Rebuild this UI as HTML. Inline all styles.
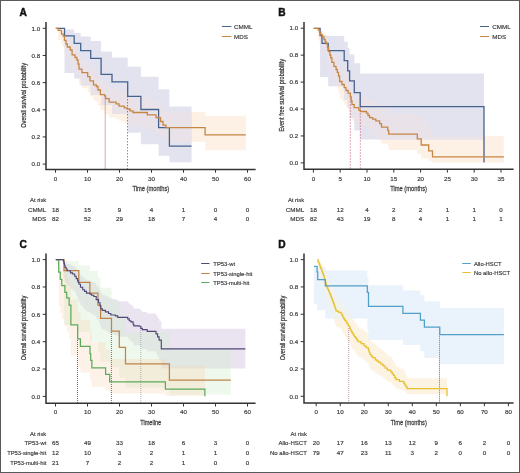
<!DOCTYPE html><html><head><meta charset="utf-8"><style>html,body{margin:0;padding:0;background:#fff;}svg{display:block;will-change:transform;}text{font-family:"Liberation Sans",sans-serif;}</style></head><body>
<svg width="520" height="473" viewBox="0 0 520 473">
<rect x="0" y="0" width="520" height="473" fill="#ffffff"/>
<text x="19.60" y="15.60" font-size="10.2" text-anchor="start" fill="#111" font-weight="bold" stroke="#111" stroke-width="0.45">A</text>
<text x="278.20" y="15.60" font-size="10.2" text-anchor="start" fill="#111" font-weight="bold" stroke="#111" stroke-width="0.45">B</text>
<text x="19.60" y="247.60" font-size="10.2" text-anchor="start" fill="#111" font-weight="bold" stroke="#111" stroke-width="0.45">C</text>
<text x="278.20" y="247.60" font-size="10.2" text-anchor="start" fill="#111" font-weight="bold" stroke="#111" stroke-width="0.45">D</text>
<clipPath id="cA"><path d="M64.50 29.50 L74.20 29.50 L74.20 32.90 L80.70 32.90 L80.70 36.40 L90.70 36.40 L90.70 41.00 L101.10 41.00 L101.10 51.50 L112.00 51.50 L112.00 57.50 L127.70 57.50 L127.70 66.70 L140.90 66.70 L140.90 76.70 L158.60 76.70 L158.60 89.30 L169.40 89.30 L169.40 106.40 L191.60 106.40 L191.60 162.20 L169.40 162.20 L169.40 155.80 L158.60 155.80 L158.60 144.20 L140.90 144.20 L140.90 132.70 L127.70 132.70 L127.70 114.00 L112.00 114.00 L112.00 105.00 L101.10 105.00 L101.10 94.80 L90.70 94.80 L90.70 85.60 L80.70 85.60 L80.70 78.60 L74.20 78.60 L74.20 72.90 L64.50 72.90Z"/></clipPath>
<path d="M58.20 28.63 L61.50 28.63 L61.50 30.31 L63.20 30.31 L63.20 31.39 L64.40 31.39 L64.40 34.13 L66.00 34.13 L66.00 36.72 L67.30 36.72 L67.30 38.95 L70.20 38.95 L70.20 41.24 L72.10 41.24 L72.10 45.04 L75.00 45.04 L75.00 47.24 L76.90 47.24 L76.90 49.32 L78.00 49.32 L78.00 52.70 L79.00 52.70 L79.00 57.22 L81.90 57.22 L81.90 60.33 L87.70 60.33 L87.70 63.89 L90.00 63.89 L90.00 67.61 L93.50 67.61 L93.50 71.29 L96.30 71.29 L96.30 72.87 L98.00 72.87 L98.00 76.15 L100.40 76.15 L100.40 80.53 L104.60 80.53 L104.60 81.68 L105.60 81.68 L105.60 84.47 L109.20 84.47 L109.20 87.77 L116.20 87.77 L116.20 89.40 L119.00 89.40 L119.00 91.69 L124.20 91.69 L124.20 93.32 L127.10 93.32 L127.10 94.38 L130.00 94.38 L130.00 96.11 L133.00 96.11 L133.00 97.75 L147.30 97.75 L147.30 99.87 L156.00 99.87 L156.00 102.48 L160.50 102.48 L160.50 105.94 L163.00 105.94 L163.00 109.35 L166.00 109.35 L166.00 111.78 L205.10 111.78 L205.10 115.78 L245.80 115.78 L245.80 150.16 L205.10 150.16 L205.10 141.87 L166.00 141.87 L166.00 139.63 L163.00 139.63 L163.00 136.27 L160.50 136.27 L160.50 132.54 L156.00 132.54 L156.00 129.63 L147.30 129.63 L147.30 127.36 L133.00 127.36 L133.00 125.75 L130.00 125.75 L130.00 124.03 L127.10 124.03 L127.10 122.98 L124.20 122.98 L124.20 121.34 L119.00 121.34 L119.00 119.02 L116.20 119.02 L116.20 117.38 L109.20 117.38 L109.20 114.15 L105.60 114.15 L105.60 111.37 L104.60 111.37 L104.60 110.22 L100.40 110.22 L100.40 105.75 L98.00 105.75 L98.00 102.30 L96.30 102.30 L96.30 100.61 L93.50 100.61 L93.50 96.60 L90.00 96.60 L90.00 92.42 L87.70 92.42 L87.70 88.28 L81.90 88.28 L81.90 84.66 L79.00 84.66 L79.00 79.20 L78.00 79.20 L78.00 74.90 L76.90 74.90 L76.90 72.17 L75.00 72.17 L75.00 69.18 L72.10 69.18 L72.10 63.77 L70.20 63.77 L70.20 60.31 L67.30 60.31 L67.30 56.81 L66.00 56.81 L66.00 52.37 L64.40 52.37 L64.40 47.00 L63.20 47.00 L63.20 44.57 L61.50 44.57 L61.50 40.09 L58.20 40.09Z" fill="#fdf1e6" fill-opacity="1.0" stroke="none"/>
<path d="M64.50 29.50 L74.20 29.50 L74.20 32.90 L80.70 32.90 L80.70 36.40 L90.70 36.40 L90.70 41.00 L101.10 41.00 L101.10 51.50 L112.00 51.50 L112.00 57.50 L127.70 57.50 L127.70 66.70 L140.90 66.70 L140.90 76.70 L158.60 76.70 L158.60 89.30 L169.40 89.30 L169.40 106.40 L191.60 106.40 L191.60 162.20 L169.40 162.20 L169.40 155.80 L158.60 155.80 L158.60 144.20 L140.90 144.20 L140.90 132.70 L127.70 132.70 L127.70 114.00 L112.00 114.00 L112.00 105.00 L101.10 105.00 L101.10 94.80 L90.70 94.80 L90.70 85.60 L80.70 85.60 L80.70 78.60 L74.20 78.60 L74.20 72.90 L64.50 72.90Z" fill="#e3e3f0" fill-opacity="1.0" stroke="none"/>
<path d="M58.20 28.63 L61.50 28.63 L61.50 30.31 L63.20 30.31 L63.20 31.39 L64.40 31.39 L64.40 34.13 L66.00 34.13 L66.00 36.72 L67.30 36.72 L67.30 38.95 L70.20 38.95 L70.20 41.24 L72.10 41.24 L72.10 45.04 L75.00 45.04 L75.00 47.24 L76.90 47.24 L76.90 49.32 L78.00 49.32 L78.00 52.70 L79.00 52.70 L79.00 57.22 L81.90 57.22 L81.90 60.33 L87.70 60.33 L87.70 63.89 L90.00 63.89 L90.00 67.61 L93.50 67.61 L93.50 71.29 L96.30 71.29 L96.30 72.87 L98.00 72.87 L98.00 76.15 L100.40 76.15 L100.40 80.53 L104.60 80.53 L104.60 81.68 L105.60 81.68 L105.60 84.47 L109.20 84.47 L109.20 87.77 L116.20 87.77 L116.20 89.40 L119.00 89.40 L119.00 91.69 L124.20 91.69 L124.20 93.32 L127.10 93.32 L127.10 94.38 L130.00 94.38 L130.00 96.11 L133.00 96.11 L133.00 97.75 L147.30 97.75 L147.30 99.87 L156.00 99.87 L156.00 102.48 L160.50 102.48 L160.50 105.94 L163.00 105.94 L163.00 109.35 L166.00 109.35 L166.00 111.78 L205.10 111.78 L205.10 115.78 L245.80 115.78 L245.80 150.16 L205.10 150.16 L205.10 141.87 L166.00 141.87 L166.00 139.63 L163.00 139.63 L163.00 136.27 L160.50 136.27 L160.50 132.54 L156.00 132.54 L156.00 129.63 L147.30 129.63 L147.30 127.36 L133.00 127.36 L133.00 125.75 L130.00 125.75 L130.00 124.03 L127.10 124.03 L127.10 122.98 L124.20 122.98 L124.20 121.34 L119.00 121.34 L119.00 119.02 L116.20 119.02 L116.20 117.38 L109.20 117.38 L109.20 114.15 L105.60 114.15 L105.60 111.37 L104.60 111.37 L104.60 110.22 L100.40 110.22 L100.40 105.75 L98.00 105.75 L98.00 102.30 L96.30 102.30 L96.30 100.61 L93.50 100.61 L93.50 96.60 L90.00 96.60 L90.00 92.42 L87.70 92.42 L87.70 88.28 L81.90 88.28 L81.90 84.66 L79.00 84.66 L79.00 79.20 L78.00 79.20 L78.00 74.90 L76.90 74.90 L76.90 72.17 L75.00 72.17 L75.00 69.18 L72.10 69.18 L72.10 63.77 L70.20 63.77 L70.20 60.31 L67.30 60.31 L67.30 56.81 L66.00 56.81 L66.00 52.37 L64.40 52.37 L64.40 47.00 L63.20 47.00 L63.20 44.57 L61.50 44.57 L61.50 40.09 L58.20 40.09Z" fill="#e9e3e9" fill-opacity="1.0" stroke="none" clip-path="url(#cA)"/>
<clipPath id="cB"><path d="M320.10 35.50 L328.20 35.50 L328.20 35.90 L344.20 35.90 L344.20 41.80 L347.70 41.80 L347.70 48.00 L349.60 48.00 L349.60 54.40 L354.30 54.40 L354.30 63.30 L360.20 63.30 L360.20 73.50 L484.00 73.50 L484.00 139.60 L360.20 139.60 L360.20 130.40 L354.30 130.40 L354.30 118.00 L349.60 118.00 L349.60 108.00 L347.70 108.00 L347.70 100.00 L344.20 100.00 L344.20 86.30 L328.20 86.30 L328.20 77.00 L320.10 77.00Z"/></clipPath>
<path d="M318.30 28.53 L319.50 28.53 L319.50 29.44 L320.80 29.44 L320.80 30.62 L322.50 30.62 L322.50 31.89 L324.00 31.89 L324.00 33.46 L325.20 33.46 L325.20 34.99 L326.50 34.99 L326.50 36.37 L327.50 36.37 L327.50 39.05 L328.60 39.05 L328.60 42.15 L329.90 42.15 L329.90 44.82 L330.80 44.82 L330.80 47.24 L331.90 47.24 L331.90 50.88 L333.90 50.88 L333.90 54.26 L336.00 54.26 L336.00 56.92 L337.30 56.92 L337.30 59.35 L338.50 59.35 L338.50 62.61 L339.60 62.61 L339.60 67.55 L342.00 67.55 L342.00 70.30 L344.20 70.30 L344.20 73.25 L346.00 73.25 L346.00 75.87 L348.10 75.87 L348.10 78.31 L350.40 78.31 L350.40 81.91 L351.20 81.91 L351.20 85.88 L352.00 85.88 L352.00 89.44 L354.20 89.44 L354.20 92.54 L358.80 92.54 L358.80 94.81 L360.40 94.81 L360.40 96.24 L366.50 96.24 L366.50 96.86 L368.00 96.86 L368.00 98.91 L369.60 98.91 L369.60 100.79 L372.70 100.79 L372.70 101.80 L375.80 101.80 L375.80 102.90 L379.60 102.90 L379.60 105.09 L381.50 105.09 L381.50 108.21 L387.70 108.21 L387.70 110.71 L388.70 110.71 L388.70 114.49 L417.30 114.49 L417.30 116.99 L421.20 116.99 L421.20 121.66 L428.70 121.66 L428.70 127.27 L432.50 127.27 L432.50 135.67 L503.80 135.67 L503.80 162.56 L432.50 162.56 L432.50 161.19 L428.70 161.19 L428.70 158.59 L421.20 158.59 L421.20 154.30 L417.30 154.30 L417.30 149.88 L388.70 149.88 L388.70 146.92 L387.70 146.92 L387.70 143.86 L381.50 143.86 L381.50 140.66 L379.60 140.66 L379.60 137.61 L375.80 137.61 L375.80 135.79 L372.70 135.79 L372.70 134.03 L369.60 134.03 L369.60 131.79 L368.00 131.79 L368.00 129.31 L366.50 129.31 L366.50 126.90 L360.40 126.90 L360.40 125.47 L358.80 125.47 L358.80 123.35 L354.20 123.35 L354.20 120.54 L352.00 120.54 L352.00 117.23 L351.20 117.23 L351.20 113.37 L350.40 113.37 L350.40 109.70 L348.10 109.70 L348.10 107.17 L346.00 107.17 L346.00 104.43 L344.20 104.43 L344.20 101.26 L342.00 101.26 L342.00 98.26 L339.60 98.26 L339.60 92.67 L338.50 92.67 L338.50 88.83 L337.30 88.83 L337.30 85.89 L336.00 85.89 L336.00 82.60 L333.90 82.60 L333.90 78.31 L331.90 78.31 L331.90 73.52 L330.80 73.52 L330.80 70.20 L329.90 70.20 L329.90 66.35 L328.60 66.35 L328.60 61.59 L327.50 61.59 L327.50 57.15 L326.50 57.15 L326.50 54.70 L325.20 54.70 L325.20 51.82 L324.00 51.82 L324.00 48.61 L322.50 48.61 L322.50 45.73 L320.80 45.73 L320.80 42.71 L319.50 42.71 L319.50 39.99 L318.30 39.99Z" fill="#fdf1e6" fill-opacity="1.0" stroke="none"/>
<path d="M320.10 35.50 L328.20 35.50 L328.20 35.90 L344.20 35.90 L344.20 41.80 L347.70 41.80 L347.70 48.00 L349.60 48.00 L349.60 54.40 L354.30 54.40 L354.30 63.30 L360.20 63.30 L360.20 73.50 L484.00 73.50 L484.00 139.60 L360.20 139.60 L360.20 130.40 L354.30 130.40 L354.30 118.00 L349.60 118.00 L349.60 108.00 L347.70 108.00 L347.70 100.00 L344.20 100.00 L344.20 86.30 L328.20 86.30 L328.20 77.00 L320.10 77.00Z" fill="#e3e3f0" fill-opacity="1.0" stroke="none"/>
<path d="M318.30 28.53 L319.50 28.53 L319.50 29.44 L320.80 29.44 L320.80 30.62 L322.50 30.62 L322.50 31.89 L324.00 31.89 L324.00 33.46 L325.20 33.46 L325.20 34.99 L326.50 34.99 L326.50 36.37 L327.50 36.37 L327.50 39.05 L328.60 39.05 L328.60 42.15 L329.90 42.15 L329.90 44.82 L330.80 44.82 L330.80 47.24 L331.90 47.24 L331.90 50.88 L333.90 50.88 L333.90 54.26 L336.00 54.26 L336.00 56.92 L337.30 56.92 L337.30 59.35 L338.50 59.35 L338.50 62.61 L339.60 62.61 L339.60 67.55 L342.00 67.55 L342.00 70.30 L344.20 70.30 L344.20 73.25 L346.00 73.25 L346.00 75.87 L348.10 75.87 L348.10 78.31 L350.40 78.31 L350.40 81.91 L351.20 81.91 L351.20 85.88 L352.00 85.88 L352.00 89.44 L354.20 89.44 L354.20 92.54 L358.80 92.54 L358.80 94.81 L360.40 94.81 L360.40 96.24 L366.50 96.24 L366.50 96.86 L368.00 96.86 L368.00 98.91 L369.60 98.91 L369.60 100.79 L372.70 100.79 L372.70 101.80 L375.80 101.80 L375.80 102.90 L379.60 102.90 L379.60 105.09 L381.50 105.09 L381.50 108.21 L387.70 108.21 L387.70 110.71 L388.70 110.71 L388.70 114.49 L417.30 114.49 L417.30 116.99 L421.20 116.99 L421.20 121.66 L428.70 121.66 L428.70 127.27 L432.50 127.27 L432.50 135.67 L503.80 135.67 L503.80 162.56 L432.50 162.56 L432.50 161.19 L428.70 161.19 L428.70 158.59 L421.20 158.59 L421.20 154.30 L417.30 154.30 L417.30 149.88 L388.70 149.88 L388.70 146.92 L387.70 146.92 L387.70 143.86 L381.50 143.86 L381.50 140.66 L379.60 140.66 L379.60 137.61 L375.80 137.61 L375.80 135.79 L372.70 135.79 L372.70 134.03 L369.60 134.03 L369.60 131.79 L368.00 131.79 L368.00 129.31 L366.50 129.31 L366.50 126.90 L360.40 126.90 L360.40 125.47 L358.80 125.47 L358.80 123.35 L354.20 123.35 L354.20 120.54 L352.00 120.54 L352.00 117.23 L351.20 117.23 L351.20 113.37 L350.40 113.37 L350.40 109.70 L348.10 109.70 L348.10 107.17 L346.00 107.17 L346.00 104.43 L344.20 104.43 L344.20 101.26 L342.00 101.26 L342.00 98.26 L339.60 98.26 L339.60 92.67 L338.50 92.67 L338.50 88.83 L337.30 88.83 L337.30 85.89 L336.00 85.89 L336.00 82.60 L333.90 82.60 L333.90 78.31 L331.90 78.31 L331.90 73.52 L330.80 73.52 L330.80 70.20 L329.90 70.20 L329.90 66.35 L328.60 66.35 L328.60 61.59 L327.50 61.59 L327.50 57.15 L326.50 57.15 L326.50 54.70 L325.20 54.70 L325.20 51.82 L324.00 51.82 L324.00 48.61 L322.50 48.61 L322.50 45.73 L320.80 45.73 L320.80 42.71 L319.50 42.71 L319.50 39.99 L318.30 39.99Z" fill="#e9e3e9" fill-opacity="1.0" stroke="none" clip-path="url(#cB)"/>
<path d="M63.30 259.70 L63.87 259.70 L63.87 260.26 L64.43 260.26 L64.43 261.11 L65.00 261.11 L65.00 262.15 L66.05 262.15 L66.05 263.08 L67.10 263.08 L67.10 264.07 L70.50 264.07 L70.50 265.37 L72.50 265.37 L72.50 266.14 L74.70 266.14 L74.70 267.60 L76.20 267.60 L76.20 269.25 L77.60 269.25 L77.60 270.82 L78.30 270.82 L78.30 272.07 L79.00 272.07 L79.00 273.34 L80.50 273.34 L80.50 275.64 L82.70 275.64 L82.70 277.60 L84.60 277.60 L84.60 278.96 L86.50 278.96 L86.50 280.33 L90.00 280.33 L90.00 281.22 L91.60 281.22 L91.60 282.03 L93.80 282.03 L93.80 283.10 L96.20 283.10 L96.20 285.66 L98.50 285.66 L98.50 288.27 L100.00 288.27 L100.00 290.93 L100.80 290.93 L100.80 293.56 L102.30 293.56 L102.30 294.99 L105.40 294.99 L105.40 296.32 L108.50 296.32 L108.50 297.75 L110.80 297.75 L110.80 299.09 L115.40 299.09 L115.40 299.81 L117.70 299.81 L117.70 301.14 L126.90 301.14 L126.90 301.14 L127.70 301.14 L127.70 302.44 L129.20 302.44 L129.20 304.09 L130.80 304.09 L130.80 305.14 L133.10 305.14 L133.10 307.16 L133.80 307.16 L133.80 308.59 L139.20 308.59 L139.20 308.94 L140.80 308.94 L140.80 310.87 L142.30 310.87 L142.30 311.93 L147.20 311.93 L147.20 313.48 L156.00 313.48 L156.00 315.43 L157.60 315.43 L157.60 318.02 L159.10 318.02 L159.10 320.78 L161.30 320.78 L161.30 328.73 L245.40 328.73 L245.40 368.50 L161.30 368.50 L161.30 360.21 L159.10 360.21 L159.10 356.99 L157.60 356.99 L157.60 353.74 L156.00 353.74 L156.00 351.14 L147.20 351.14 L147.20 349.28 L142.30 349.28 L142.30 348.07 L140.80 348.07 L140.80 345.82 L139.20 345.82 L139.20 345.41 L133.80 345.41 L133.80 343.81 L133.10 343.81 L133.10 341.46 L130.80 341.46 L130.80 340.23 L129.20 340.23 L129.20 338.26 L127.70 338.26 L127.70 336.70 L126.90 336.70 L126.90 336.70 L117.70 336.70 L117.70 335.19 L115.40 335.19 L115.40 334.38 L110.80 334.38 L110.80 332.89 L108.50 332.89 L108.50 331.30 L105.40 331.30 L105.40 329.80 L102.30 329.80 L102.30 328.21 L100.80 328.21 L100.80 325.18 L100.00 325.18 L100.00 321.99 L98.50 321.99 L98.50 318.73 L96.20 318.73 L96.20 315.42 L93.80 315.42 L93.80 314.02 L91.60 314.02 L91.60 312.95 L90.00 312.95 L90.00 311.77 L86.50 311.77 L86.50 309.94 L84.60 309.94 L84.60 308.10 L82.70 308.10 L82.70 305.36 L80.50 305.36 L80.50 302.03 L79.00 302.03 L79.00 300.12 L78.30 300.12 L78.30 298.18 L77.60 298.18 L77.60 295.63 L76.20 295.63 L76.20 292.79 L74.70 292.79 L74.70 290.13 L72.50 290.13 L72.50 288.68 L70.50 288.68 L70.50 286.11 L67.10 286.11 L67.10 284.04 L66.05 284.04 L66.05 281.97 L65.00 281.97 L65.00 279.48 L64.43 279.48 L64.43 277.33 L63.87 277.33 L63.87 278.27 L63.30 278.27Z" fill="#c8bcd8" fill-opacity="0.4" stroke="none"/>
<path d="M64.00 261.08 L78.80 261.08 L78.80 265.50 L89.90 265.50 L89.90 271.02 L97.90 271.02 L97.90 278.01 L100.60 278.01 L100.60 287.77 L111.50 287.77 L111.50 300.55 L119.30 300.55 L119.30 315.73 L125.50 315.73 L125.50 332.20 L169.40 332.20 L169.40 348.58 L230.80 348.58 L230.80 394.55 L169.40 394.55 L169.40 387.38 L125.50 387.38 L125.50 377.66 L119.30 377.66 L119.30 367.18 L111.50 367.18 L111.50 361.61 L100.60 361.61 L100.60 352.53 L97.90 352.53 L97.90 341.42 L89.90 341.42 L89.90 332.04 L78.80 332.04 L78.80 324.68 L64.00 324.68Z" fill="#d3ebce" fill-opacity="0.36" stroke="none"/>
<path d="M58.70 262.64 L60.30 262.64 L60.30 266.15 L61.80 266.15 L61.80 269.77 L64.90 269.77 L64.90 274.21 L66.70 274.21 L66.70 278.04 L69.10 278.04 L69.10 283.41 L70.90 283.41 L70.90 299.48 L77.70 299.48 L77.70 312.32 L80.40 312.32 L80.40 319.73 L90.00 319.73 L90.00 326.62 L90.70 326.62 L90.70 333.63 L91.90 333.63 L91.90 342.22 L105.60 342.22 L105.60 349.56 L109.70 349.56 L109.70 359.02 L165.40 359.02 L165.40 365.65 L204.90 365.65 L204.90 395.99 L165.40 395.99 L165.40 393.58 L109.70 393.58 L109.70 390.33 L105.60 390.33 L105.60 386.69 L91.90 386.69 L91.90 382.51 L90.70 382.51 L90.70 378.14 L90.00 378.14 L90.00 372.45 L80.40 372.45 L80.40 367.17 L77.70 367.17 L77.70 355.85 L70.90 355.85 L70.90 338.49 L69.10 338.49 L69.10 331.47 L66.70 331.47 L66.70 326.07 L64.90 326.07 L64.90 319.04 L61.80 319.04 L61.80 312.85 L60.30 312.85 L60.30 306.14 L58.70 306.14Z" fill="#f6d3b0" fill-opacity="0.3" stroke="none"/>
<clipPath id="cD"><path d="M313.90 266.00 L317.10 266.00 L317.10 267.00 L325.30 267.00 L325.30 270.50 L367.30 270.50 L367.30 278.00 L368.50 278.00 L368.50 285.20 L402.90 285.20 L402.90 290.60 L420.40 290.60 L420.40 295.00 L424.40 295.00 L424.40 301.40 L439.80 301.40 L439.80 308.00 L503.90 308.00 L503.90 364.20 L439.80 364.20 L439.80 358.10 L424.40 358.10 L424.40 351.20 L420.40 351.20 L420.40 345.10 L402.90 345.10 L402.90 339.90 L368.50 339.90 L368.50 330.00 L367.30 330.00 L367.30 318.50 L325.30 318.50 L325.30 310.00 L317.10 310.00 L317.10 304.00 L313.90 304.00Z"/></clipPath>
<path d="M318.05 259.96 L319.00 259.96 L319.00 260.83 L319.62 260.83 L319.62 261.62 L320.25 261.62 L320.25 262.50 L320.88 262.50 L320.88 263.45 L321.50 263.45 L321.50 264.45 L322.12 264.45 L322.12 265.61 L322.75 265.61 L322.75 266.82 L323.38 266.82 L323.38 268.06 L324.00 268.06 L324.00 269.34 L324.48 269.34 L324.48 270.65 L324.95 270.65 L324.95 271.99 L325.42 271.99 L325.42 273.35 L325.90 273.35 L325.90 274.73 L326.53 274.73 L326.53 276.09 L327.17 276.09 L327.17 277.48 L327.80 277.48 L327.80 278.87 L328.60 278.87 L328.60 280.43 L329.40 280.43 L329.40 282.01 L330.20 282.01 L330.20 283.60 L331.00 283.60 L331.00 285.21 L331.62 285.21 L331.62 286.66 L332.25 286.66 L332.25 288.13 L332.88 288.13 L332.88 289.60 L333.50 289.60 L333.50 291.09 L334.15 291.09 L334.15 292.78 L334.80 292.78 L334.80 294.50 L335.45 294.50 L335.45 296.22 L336.10 296.22 L336.10 297.96 L338.60 297.96 L338.60 299.15 L341.10 299.15 L341.10 300.33 L341.97 300.33 L341.97 301.88 L342.83 301.88 L342.83 303.44 L343.70 303.44 L343.70 305.02 L344.83 305.02 L344.83 306.57 L345.97 306.57 L345.97 308.12 L347.10 308.12 L347.10 309.69 L348.35 309.69 L348.35 311.71 L349.60 311.71 L349.60 313.75 L350.43 313.75 L350.43 315.35 L351.27 315.35 L351.27 316.95 L352.10 316.95 L352.10 318.57 L353.23 318.57 L353.23 320.22 L354.37 320.22 L354.37 321.88 L355.50 321.88 L355.50 323.55 L356.75 323.55 L356.75 325.23 L358.00 325.23 L358.00 326.90 L361.00 326.90 L361.00 328.95 L364.00 328.95 L364.00 330.98 L366.10 330.98 L366.10 332.63 L368.20 332.63 L368.20 334.28 L368.77 334.28 L368.77 335.96 L369.33 335.96 L369.33 337.67 L369.90 337.67 L369.90 339.40 L371.20 339.40 L371.20 341.15 L372.50 341.15 L372.50 342.91 L375.20 342.91 L375.20 345.09 L376.95 345.09 L376.95 346.45 L378.70 346.45 L378.70 347.82 L380.85 347.82 L380.85 349.65 L383.00 349.65 L383.00 351.49 L385.15 351.49 L385.15 353.76 L387.30 353.76 L387.30 356.05 L390.80 356.05 L390.80 357.86 L392.10 357.86 L392.10 359.76 L393.40 359.76 L393.40 361.72 L394.70 361.72 L394.70 364.19 L396.00 364.19 L396.00 366.77 L399.40 366.77 L399.40 368.83 L403.70 368.83 L403.70 370.93 L404.87 370.93 L404.87 373.20 L406.03 373.20 L406.03 375.62 L407.20 375.62 L407.20 378.23 L447.00 378.23 L447.00 394.09 L407.20 394.09 L407.20 393.19 L406.03 393.19 L406.03 392.19 L404.87 392.19 L404.87 391.08 L403.70 391.08 L403.70 389.90 L399.40 389.90 L399.40 388.78 L396.00 388.78 L396.00 387.33 L394.70 387.33 L394.70 385.80 L393.40 385.80 L393.40 384.49 L392.10 384.49 L392.10 383.14 L390.80 383.14 L390.80 381.78 L387.30 381.78 L387.30 380.05 L385.15 380.05 L385.15 378.28 L383.00 378.28 L383.00 376.82 L380.85 376.82 L380.85 375.35 L378.70 375.35 L378.70 374.25 L376.95 374.25 L376.95 373.15 L375.20 373.15 L375.20 371.35 L372.50 371.35 L372.50 369.88 L371.20 369.88 L371.20 368.39 L369.90 368.39 L369.90 366.89 L369.33 366.89 L369.33 365.36 L368.77 365.36 L368.77 363.80 L368.20 363.80 L368.20 362.21 L366.10 362.21 L366.10 360.61 L364.00 360.61 L364.00 358.61 L361.00 358.61 L361.00 356.64 L358.00 356.64 L358.00 355.06 L356.75 355.06 L356.75 353.47 L355.50 353.47 L355.50 351.88 L354.37 351.88 L354.37 350.28 L353.23 350.28 L353.23 348.67 L352.10 348.67 L352.10 347.08 L351.27 347.08 L351.27 345.49 L350.43 345.49 L350.43 343.88 L349.60 343.88 L349.60 341.79 L348.35 341.79 L348.35 339.68 L347.10 339.68 L347.10 338.04 L345.97 338.04 L345.97 336.39 L344.83 336.39 L344.83 334.73 L343.70 334.73 L343.70 333.03 L342.83 333.03 L342.83 331.31 L341.97 331.31 L341.97 329.59 L341.10 329.59 L341.10 328.26 L338.60 328.26 L338.60 326.95 L336.10 326.95 L336.10 325.04 L335.45 325.04 L335.45 323.12 L334.80 323.12 L334.80 321.18 L334.15 321.18 L334.15 319.23 L333.50 319.23 L333.50 317.50 L332.88 317.50 L332.88 315.76 L332.25 315.76 L332.25 314.01 L331.62 314.01 L331.62 312.24 L331.00 312.24 L331.00 310.25 L330.20 310.25 L330.20 308.25 L329.40 308.25 L329.40 306.23 L328.60 306.23 L328.60 304.19 L327.80 304.19 L327.80 302.33 L327.17 302.33 L327.17 300.46 L326.53 300.46 L326.53 298.57 L325.90 298.57 L325.90 296.60 L325.42 296.60 L325.42 294.62 L324.95 294.62 L324.95 292.61 L324.48 292.61 L324.48 290.58 L324.00 290.58 L324.00 288.51 L323.38 288.51 L323.38 286.42 L322.75 286.42 L322.75 284.30 L322.12 284.30 L322.12 282.15 L321.50 282.15 L321.50 280.18 L320.88 280.18 L320.88 278.19 L320.25 278.19 L320.25 276.19 L319.62 276.19 L319.62 274.22 L319.00 274.22 L319.00 271.94 L318.05 271.94Z" fill="#fdf3e2" fill-opacity="1.0" stroke="none"/>
<path d="M313.90 266.00 L317.10 266.00 L317.10 267.00 L325.30 267.00 L325.30 270.50 L367.30 270.50 L367.30 278.00 L368.50 278.00 L368.50 285.20 L402.90 285.20 L402.90 290.60 L420.40 290.60 L420.40 295.00 L424.40 295.00 L424.40 301.40 L439.80 301.40 L439.80 308.00 L503.90 308.00 L503.90 364.20 L439.80 364.20 L439.80 358.10 L424.40 358.10 L424.40 351.20 L420.40 351.20 L420.40 345.10 L402.90 345.10 L402.90 339.90 L368.50 339.90 L368.50 330.00 L367.30 330.00 L367.30 318.50 L325.30 318.50 L325.30 310.00 L317.10 310.00 L317.10 304.00 L313.90 304.00Z" fill="#eaf2fb" fill-opacity="1.0" stroke="none"/>
<path d="M318.05 259.96 L319.00 259.96 L319.00 260.83 L319.62 260.83 L319.62 261.62 L320.25 261.62 L320.25 262.50 L320.88 262.50 L320.88 263.45 L321.50 263.45 L321.50 264.45 L322.12 264.45 L322.12 265.61 L322.75 265.61 L322.75 266.82 L323.38 266.82 L323.38 268.06 L324.00 268.06 L324.00 269.34 L324.48 269.34 L324.48 270.65 L324.95 270.65 L324.95 271.99 L325.42 271.99 L325.42 273.35 L325.90 273.35 L325.90 274.73 L326.53 274.73 L326.53 276.09 L327.17 276.09 L327.17 277.48 L327.80 277.48 L327.80 278.87 L328.60 278.87 L328.60 280.43 L329.40 280.43 L329.40 282.01 L330.20 282.01 L330.20 283.60 L331.00 283.60 L331.00 285.21 L331.62 285.21 L331.62 286.66 L332.25 286.66 L332.25 288.13 L332.88 288.13 L332.88 289.60 L333.50 289.60 L333.50 291.09 L334.15 291.09 L334.15 292.78 L334.80 292.78 L334.80 294.50 L335.45 294.50 L335.45 296.22 L336.10 296.22 L336.10 297.96 L338.60 297.96 L338.60 299.15 L341.10 299.15 L341.10 300.33 L341.97 300.33 L341.97 301.88 L342.83 301.88 L342.83 303.44 L343.70 303.44 L343.70 305.02 L344.83 305.02 L344.83 306.57 L345.97 306.57 L345.97 308.12 L347.10 308.12 L347.10 309.69 L348.35 309.69 L348.35 311.71 L349.60 311.71 L349.60 313.75 L350.43 313.75 L350.43 315.35 L351.27 315.35 L351.27 316.95 L352.10 316.95 L352.10 318.57 L353.23 318.57 L353.23 320.22 L354.37 320.22 L354.37 321.88 L355.50 321.88 L355.50 323.55 L356.75 323.55 L356.75 325.23 L358.00 325.23 L358.00 326.90 L361.00 326.90 L361.00 328.95 L364.00 328.95 L364.00 330.98 L366.10 330.98 L366.10 332.63 L368.20 332.63 L368.20 334.28 L368.77 334.28 L368.77 335.96 L369.33 335.96 L369.33 337.67 L369.90 337.67 L369.90 339.40 L371.20 339.40 L371.20 341.15 L372.50 341.15 L372.50 342.91 L375.20 342.91 L375.20 345.09 L376.95 345.09 L376.95 346.45 L378.70 346.45 L378.70 347.82 L380.85 347.82 L380.85 349.65 L383.00 349.65 L383.00 351.49 L385.15 351.49 L385.15 353.76 L387.30 353.76 L387.30 356.05 L390.80 356.05 L390.80 357.86 L392.10 357.86 L392.10 359.76 L393.40 359.76 L393.40 361.72 L394.70 361.72 L394.70 364.19 L396.00 364.19 L396.00 366.77 L399.40 366.77 L399.40 368.83 L403.70 368.83 L403.70 370.93 L404.87 370.93 L404.87 373.20 L406.03 373.20 L406.03 375.62 L407.20 375.62 L407.20 378.23 L447.00 378.23 L447.00 394.09 L407.20 394.09 L407.20 393.19 L406.03 393.19 L406.03 392.19 L404.87 392.19 L404.87 391.08 L403.70 391.08 L403.70 389.90 L399.40 389.90 L399.40 388.78 L396.00 388.78 L396.00 387.33 L394.70 387.33 L394.70 385.80 L393.40 385.80 L393.40 384.49 L392.10 384.49 L392.10 383.14 L390.80 383.14 L390.80 381.78 L387.30 381.78 L387.30 380.05 L385.15 380.05 L385.15 378.28 L383.00 378.28 L383.00 376.82 L380.85 376.82 L380.85 375.35 L378.70 375.35 L378.70 374.25 L376.95 374.25 L376.95 373.15 L375.20 373.15 L375.20 371.35 L372.50 371.35 L372.50 369.88 L371.20 369.88 L371.20 368.39 L369.90 368.39 L369.90 366.89 L369.33 366.89 L369.33 365.36 L368.77 365.36 L368.77 363.80 L368.20 363.80 L368.20 362.21 L366.10 362.21 L366.10 360.61 L364.00 360.61 L364.00 358.61 L361.00 358.61 L361.00 356.64 L358.00 356.64 L358.00 355.06 L356.75 355.06 L356.75 353.47 L355.50 353.47 L355.50 351.88 L354.37 351.88 L354.37 350.28 L353.23 350.28 L353.23 348.67 L352.10 348.67 L352.10 347.08 L351.27 347.08 L351.27 345.49 L350.43 345.49 L350.43 343.88 L349.60 343.88 L349.60 341.79 L348.35 341.79 L348.35 339.68 L347.10 339.68 L347.10 338.04 L345.97 338.04 L345.97 336.39 L344.83 336.39 L344.83 334.73 L343.70 334.73 L343.70 333.03 L342.83 333.03 L342.83 331.31 L341.97 331.31 L341.97 329.59 L341.10 329.59 L341.10 328.26 L338.60 328.26 L338.60 326.95 L336.10 326.95 L336.10 325.04 L335.45 325.04 L335.45 323.12 L334.80 323.12 L334.80 321.18 L334.15 321.18 L334.15 319.23 L333.50 319.23 L333.50 317.50 L332.88 317.50 L332.88 315.76 L332.25 315.76 L332.25 314.01 L331.62 314.01 L331.62 312.24 L331.00 312.24 L331.00 310.25 L330.20 310.25 L330.20 308.25 L329.40 308.25 L329.40 306.23 L328.60 306.23 L328.60 304.19 L327.80 304.19 L327.80 302.33 L327.17 302.33 L327.17 300.46 L326.53 300.46 L326.53 298.57 L325.90 298.57 L325.90 296.60 L325.42 296.60 L325.42 294.62 L324.95 294.62 L324.95 292.61 L324.48 292.61 L324.48 290.58 L324.00 290.58 L324.00 288.51 L323.38 288.51 L323.38 286.42 L322.75 286.42 L322.75 284.30 L322.12 284.30 L322.12 282.15 L321.50 282.15 L321.50 280.18 L320.88 280.18 L320.88 278.19 L320.25 278.19 L320.25 276.19 L319.62 276.19 L319.62 274.22 L319.00 274.22 L319.00 271.94 L318.05 271.94Z" fill="#f0f2ee" fill-opacity="1.0" stroke="none" clip-path="url(#cD)"/>
<line x1="105.2" y1="96.3" x2="105.2" y2="169" stroke="#d06a70" stroke-width="1.0" stroke-dasharray="1.2 0.8"/>
<line x1="127.5" y1="96.3" x2="127.5" y2="169" stroke="#a03848" stroke-width="1.0" stroke-dasharray="1 2"/>
<line x1="350.3" y1="95.5" x2="350.3" y2="169" stroke="#c04a64" stroke-width="1.0" stroke-dasharray="1 2"/>
<line x1="360.3" y1="95.5" x2="360.3" y2="169" stroke="#c04a64" stroke-width="1.0" stroke-dasharray="1 2"/>
<line x1="77.5" y1="328" x2="77.5" y2="403" stroke="#606060" stroke-width="0.9" stroke-dasharray="1 1"/>
<line x1="111.4" y1="328" x2="111.4" y2="403" stroke="#606060" stroke-width="0.9" stroke-dasharray="1 1"/>
<line x1="140.8" y1="328" x2="140.8" y2="403" stroke="#a8a8a8" stroke-width="0.9" stroke-dasharray="1 1"/>
<line x1="348.7" y1="328" x2="348.7" y2="403" stroke="#b88a98" stroke-width="0.9" stroke-dasharray="1 1"/>
<line x1="439.5" y1="328" x2="439.5" y2="403" stroke="#a08c9c" stroke-width="0.9" stroke-dasharray="1.5 0.5"/>
<path d="M55.80 28.30H64.50V35.90H74.20V43.40H80.70V50.60H90.70V58.30H101.10V74.40H112.00V81.90H127.70V96.30H140.90V109.50H158.60V127.70H169.40V146.10H191.60" fill="none" stroke="#46638e" stroke-width="1.3" stroke-linejoin="miter"/>
<path d="M55.80 28.30H58.20V30.30H61.50V34.10H63.20V36.00H64.40V40.30H66.00V44.00H67.30V47.00H70.20V50.00H72.10V54.80H75.00V57.50H76.90V60.00H78.00V64.00H79.00V69.20H81.90V72.70H87.70V76.70H90.00V80.80H93.50V84.80H96.30V86.50H98.00V90.00H100.40V94.60H104.60V95.80H105.60V98.70H109.20V102.10H116.20V103.80H119.00V106.20H124.20V107.90H127.10V109.00H130.00V110.80H133.00V112.50H147.30V114.80H156.00V117.70H160.50V121.50H163.00V125.10H166.00V127.60H205.10V134.80H245.80" fill="none" stroke="#c68645" stroke-width="1.3" stroke-linejoin="miter"/>
<path d="M313.70 28.30H320.10V35.50H322.00V43.30H328.20V50.70H344.20V60.60H347.70V70.90H349.60V80.90H354.30V92.60H360.20V106.60H484.00V162.40H484.00" fill="none" stroke="#46638e" stroke-width="1.3" stroke-linejoin="miter"/>
<path d="M313.70 28.30H318.30V30.20H319.50V32.50H320.80V34.80H322.50V37.00H324.00V39.50H325.20V41.80H326.50V43.80H327.50V47.50H328.60V51.60H329.90V55.00H330.80V58.00H331.90V62.40H333.90V66.40H336.00V69.50H337.30V72.30H338.50V76.00H339.60V81.50H342.00V84.50H344.20V87.70H346.00V90.50H348.10V93.10H350.40V96.90H351.20V101.00H352.00V104.60H354.20V107.70H358.80V110.00H360.40V111.50H366.50V113.10H368.00V115.50H369.60V117.70H372.70V119.20H375.80V120.80H379.60V123.70H381.50V127.20H387.70V130.40H388.70V134.20H417.30V138.80H421.20V145.00H428.70V150.80H432.50V156.80H503.80" fill="none" stroke="#c68645" stroke-width="1.3" stroke-linejoin="miter"/>
<path d="M55.80 259.60H58.70V272.20H60.30V279.30H61.80V285.50H64.90V292.40H66.70V297.90H69.10V305.20H70.90V324.80H77.70V338.90H80.40V346.30H90.00V353.70H90.70V360.40H91.90V367.80H105.60V374.40H109.70V381.90H165.40V389.20H204.90V396.20H204.90" fill="none" stroke="#5daa5a" stroke-width="1.25" stroke-linejoin="miter"/>
<path d="M55.80 259.60H64.00V270.60H78.80V282.40H89.90V293.20H97.90V305.20H100.60V318.40H111.50V331.20H119.30V347.30H125.50V363.80H169.40V380.10H230.80" fill="none" stroke="#c08448" stroke-width="1.25" stroke-linejoin="miter"/>
<path d="M55.80 259.60H62.80V259.60H63.30V261.00H63.87V263.10H64.43V265.20H65.00V267.30H66.05V269.00H67.10V270.70H70.50V272.80H72.50V274.00H74.70V276.20H76.20V278.60H77.60V280.80H78.30V282.50H79.00V284.20H80.50V287.20H82.70V289.70H84.60V291.40H86.50V293.10H90.00V294.20H91.60V295.20H93.80V296.50H96.20V299.60H98.50V302.70H100.00V305.80H100.80V308.80H102.30V310.40H105.40V311.90H108.50V313.50H110.80V315.00H115.40V315.80H117.70V317.30H126.90V317.30H127.70V318.80H129.20V320.70H130.80V321.90H133.10V324.20H133.80V325.80H139.20V326.20H140.80V328.40H142.30V329.60H147.20V331.40H156.00V333.80H157.60V336.90H159.10V340.10H161.30V348.90H245.40" fill="none" stroke="#524878" stroke-width="1.15" stroke-linejoin="miter"/>
<path d="M317.10 259.60H318.05V261.75H319.00V263.90H319.62V265.47H320.25V267.05H320.88V268.62H321.50V270.20H322.12V271.95H322.75V273.70H323.38V275.45H324.00V277.20H324.48V278.95H324.95V280.70H325.42V282.45H325.90V284.20H326.53V285.90H327.17V287.60H327.80V289.30H328.60V291.18H329.40V293.05H330.20V294.93H331.00V296.80H331.62V298.48H332.25V300.15H332.88V301.82H333.50V303.50H334.15V305.40H334.80V307.30H335.45V309.20H336.10V311.10H338.60V312.40H341.10V313.70H341.97V315.40H342.83V317.10H343.70V318.80H344.83V320.47H345.97V322.13H347.10V323.80H348.35V325.95H349.60V328.10H350.43V329.77H351.27V331.43H352.10V333.10H353.23V334.80H354.37V336.50H355.50V338.20H356.75V339.90H358.00V341.60H361.00V343.70H364.00V345.80H366.10V347.50H368.20V349.20H368.77V350.90H369.33V352.60H369.90V354.30H371.20V356.00H372.50V357.70H375.20V359.80H376.95V361.10H378.70V362.40H380.85V364.15H383.00V365.90H385.15V368.05H387.30V370.20H390.80V371.90H392.10V373.65H393.40V375.40H394.70V377.55H396.00V379.70H399.40V381.40H403.70V383.20H404.87V385.03H406.03V386.87H407.20V388.70H447.00V396.30H447.00" fill="none" stroke="#e8c030" stroke-width="1.25" stroke-linejoin="miter"/>
<path d="M313.90 266.30H317.10V271.80H317.70V279.60H325.30V285.80H367.30V292.30H368.50V306.40H402.90V313.40H420.40V320.20H424.40V327.00H439.80V334.60H503.90" fill="none" stroke="#50a0c8" stroke-width="1.25" stroke-linejoin="miter"/>
<path d="M46 22 V169.4 H255.6" fill="none" stroke="#333333" stroke-width="1.5" stroke-linejoin="miter"/>
<line x1="42.7" y1="164.10" x2="46" y2="164.10" stroke="#333333" stroke-width="1"/>
<text x="40.20" y="166.30" font-size="6.2" text-anchor="end" fill="#3c3c3c" stroke="#3c3c3c" stroke-width="0.18">0.0</text>
<line x1="42.7" y1="136.94" x2="46" y2="136.94" stroke="#333333" stroke-width="1"/>
<text x="40.20" y="139.14" font-size="6.2" text-anchor="end" fill="#3c3c3c" stroke="#3c3c3c" stroke-width="0.18">0.2</text>
<line x1="42.7" y1="109.78" x2="46" y2="109.78" stroke="#333333" stroke-width="1"/>
<text x="40.20" y="111.98" font-size="6.2" text-anchor="end" fill="#3c3c3c" stroke="#3c3c3c" stroke-width="0.18">0.4</text>
<line x1="42.7" y1="82.62" x2="46" y2="82.62" stroke="#333333" stroke-width="1"/>
<text x="40.20" y="84.82" font-size="6.2" text-anchor="end" fill="#3c3c3c" stroke="#3c3c3c" stroke-width="0.18">0.6</text>
<line x1="42.7" y1="55.46" x2="46" y2="55.46" stroke="#333333" stroke-width="1"/>
<text x="40.20" y="57.66" font-size="6.2" text-anchor="end" fill="#3c3c3c" stroke="#3c3c3c" stroke-width="0.18">0.8</text>
<line x1="42.7" y1="28.30" x2="46" y2="28.30" stroke="#333333" stroke-width="1"/>
<text x="40.20" y="30.50" font-size="6.2" text-anchor="end" fill="#3c3c3c" stroke="#3c3c3c" stroke-width="0.18">1.0</text>
<line x1="55.50" y1="169.4" x2="55.50" y2="172.70000000000002" stroke="#333333" stroke-width="1"/>
<text x="55.50" y="181.00" font-size="6.2" text-anchor="middle" fill="#3c3c3c" stroke="#3c3c3c" stroke-width="0.18">0</text>
<line x1="87.50" y1="169.4" x2="87.50" y2="172.70000000000002" stroke="#333333" stroke-width="1"/>
<text x="87.50" y="181.00" font-size="6.2" text-anchor="middle" fill="#3c3c3c" stroke="#3c3c3c" stroke-width="0.18">10</text>
<line x1="119.50" y1="169.4" x2="119.50" y2="172.70000000000002" stroke="#333333" stroke-width="1"/>
<text x="119.50" y="181.00" font-size="6.2" text-anchor="middle" fill="#3c3c3c" stroke="#3c3c3c" stroke-width="0.18">20</text>
<line x1="151.50" y1="169.4" x2="151.50" y2="172.70000000000002" stroke="#333333" stroke-width="1"/>
<text x="151.50" y="181.00" font-size="6.2" text-anchor="middle" fill="#3c3c3c" stroke="#3c3c3c" stroke-width="0.18">30</text>
<line x1="183.50" y1="169.4" x2="183.50" y2="172.70000000000002" stroke="#333333" stroke-width="1"/>
<text x="183.50" y="181.00" font-size="6.2" text-anchor="middle" fill="#3c3c3c" stroke="#3c3c3c" stroke-width="0.18">40</text>
<line x1="215.50" y1="169.4" x2="215.50" y2="172.70000000000002" stroke="#333333" stroke-width="1"/>
<text x="215.50" y="181.00" font-size="6.2" text-anchor="middle" fill="#3c3c3c" stroke="#3c3c3c" stroke-width="0.18">50</text>
<line x1="247.50" y1="169.4" x2="247.50" y2="172.70000000000002" stroke="#333333" stroke-width="1"/>
<text x="247.50" y="181.00" font-size="6.2" text-anchor="middle" fill="#3c3c3c" stroke="#3c3c3c" stroke-width="0.18">60</text>
<path d="M304 22 V169.3 H513.6" fill="none" stroke="#333333" stroke-width="1.5" stroke-linejoin="miter"/>
<line x1="300.7" y1="162.90" x2="304" y2="162.90" stroke="#333333" stroke-width="1"/>
<text x="298.20" y="165.10" font-size="6.2" text-anchor="end" fill="#3c3c3c" stroke="#3c3c3c" stroke-width="0.18">0.0</text>
<line x1="300.7" y1="135.96" x2="304" y2="135.96" stroke="#333333" stroke-width="1"/>
<text x="298.20" y="138.16" font-size="6.2" text-anchor="end" fill="#3c3c3c" stroke="#3c3c3c" stroke-width="0.18">0.2</text>
<line x1="300.7" y1="109.02" x2="304" y2="109.02" stroke="#333333" stroke-width="1"/>
<text x="298.20" y="111.22" font-size="6.2" text-anchor="end" fill="#3c3c3c" stroke="#3c3c3c" stroke-width="0.18">0.4</text>
<line x1="300.7" y1="82.08" x2="304" y2="82.08" stroke="#333333" stroke-width="1"/>
<text x="298.20" y="84.28" font-size="6.2" text-anchor="end" fill="#3c3c3c" stroke="#3c3c3c" stroke-width="0.18">0.6</text>
<line x1="300.7" y1="55.14" x2="304" y2="55.14" stroke="#333333" stroke-width="1"/>
<text x="298.20" y="57.34" font-size="6.2" text-anchor="end" fill="#3c3c3c" stroke="#3c3c3c" stroke-width="0.18">0.8</text>
<line x1="300.7" y1="28.20" x2="304" y2="28.20" stroke="#333333" stroke-width="1"/>
<text x="298.20" y="30.40" font-size="6.2" text-anchor="end" fill="#3c3c3c" stroke="#3c3c3c" stroke-width="0.18">1.0</text>
<line x1="313.40" y1="169.3" x2="313.40" y2="172.60000000000002" stroke="#333333" stroke-width="1"/>
<text x="313.40" y="181.00" font-size="6.2" text-anchor="middle" fill="#3c3c3c" stroke="#3c3c3c" stroke-width="0.18">0</text>
<line x1="340.20" y1="169.3" x2="340.20" y2="172.60000000000002" stroke="#333333" stroke-width="1"/>
<text x="340.20" y="181.00" font-size="6.2" text-anchor="middle" fill="#3c3c3c" stroke="#3c3c3c" stroke-width="0.18">5</text>
<line x1="367.00" y1="169.3" x2="367.00" y2="172.60000000000002" stroke="#333333" stroke-width="1"/>
<text x="367.00" y="181.00" font-size="6.2" text-anchor="middle" fill="#3c3c3c" stroke="#3c3c3c" stroke-width="0.18">10</text>
<line x1="393.80" y1="169.3" x2="393.80" y2="172.60000000000002" stroke="#333333" stroke-width="1"/>
<text x="393.80" y="181.00" font-size="6.2" text-anchor="middle" fill="#3c3c3c" stroke="#3c3c3c" stroke-width="0.18">15</text>
<line x1="420.60" y1="169.3" x2="420.60" y2="172.60000000000002" stroke="#333333" stroke-width="1"/>
<text x="420.60" y="181.00" font-size="6.2" text-anchor="middle" fill="#3c3c3c" stroke="#3c3c3c" stroke-width="0.18">20</text>
<line x1="447.40" y1="169.3" x2="447.40" y2="172.60000000000002" stroke="#333333" stroke-width="1"/>
<text x="447.40" y="181.00" font-size="6.2" text-anchor="middle" fill="#3c3c3c" stroke="#3c3c3c" stroke-width="0.18">25</text>
<line x1="474.20" y1="169.3" x2="474.20" y2="172.60000000000002" stroke="#333333" stroke-width="1"/>
<text x="474.20" y="181.00" font-size="6.2" text-anchor="middle" fill="#3c3c3c" stroke="#3c3c3c" stroke-width="0.18">30</text>
<line x1="501.00" y1="169.3" x2="501.00" y2="172.60000000000002" stroke="#333333" stroke-width="1"/>
<text x="501.00" y="181.00" font-size="6.2" text-anchor="middle" fill="#3c3c3c" stroke="#3c3c3c" stroke-width="0.18">35</text>
<path d="M46 253.5 V403.2 H255.6" fill="none" stroke="#333333" stroke-width="1.5" stroke-linejoin="miter"/>
<line x1="42.7" y1="396.40" x2="46" y2="396.40" stroke="#333333" stroke-width="1"/>
<text x="40.20" y="398.60" font-size="6.2" text-anchor="end" fill="#3c3c3c" stroke="#3c3c3c" stroke-width="0.18">0.0</text>
<line x1="42.7" y1="369.04" x2="46" y2="369.04" stroke="#333333" stroke-width="1"/>
<text x="40.20" y="371.24" font-size="6.2" text-anchor="end" fill="#3c3c3c" stroke="#3c3c3c" stroke-width="0.18">0.2</text>
<line x1="42.7" y1="341.68" x2="46" y2="341.68" stroke="#333333" stroke-width="1"/>
<text x="40.20" y="343.88" font-size="6.2" text-anchor="end" fill="#3c3c3c" stroke="#3c3c3c" stroke-width="0.18">0.4</text>
<line x1="42.7" y1="314.32" x2="46" y2="314.32" stroke="#333333" stroke-width="1"/>
<text x="40.20" y="316.52" font-size="6.2" text-anchor="end" fill="#3c3c3c" stroke="#3c3c3c" stroke-width="0.18">0.6</text>
<line x1="42.7" y1="286.96" x2="46" y2="286.96" stroke="#333333" stroke-width="1"/>
<text x="40.20" y="289.16" font-size="6.2" text-anchor="end" fill="#3c3c3c" stroke="#3c3c3c" stroke-width="0.18">0.8</text>
<line x1="42.7" y1="259.60" x2="46" y2="259.60" stroke="#333333" stroke-width="1"/>
<text x="40.20" y="261.80" font-size="6.2" text-anchor="end" fill="#3c3c3c" stroke="#3c3c3c" stroke-width="0.18">1.0</text>
<line x1="55.50" y1="403.2" x2="55.50" y2="406.5" stroke="#333333" stroke-width="1"/>
<text x="55.50" y="414.30" font-size="6.2" text-anchor="middle" fill="#3c3c3c" stroke="#3c3c3c" stroke-width="0.18">0</text>
<line x1="87.50" y1="403.2" x2="87.50" y2="406.5" stroke="#333333" stroke-width="1"/>
<text x="87.50" y="414.30" font-size="6.2" text-anchor="middle" fill="#3c3c3c" stroke="#3c3c3c" stroke-width="0.18">10</text>
<line x1="119.50" y1="403.2" x2="119.50" y2="406.5" stroke="#333333" stroke-width="1"/>
<text x="119.50" y="414.30" font-size="6.2" text-anchor="middle" fill="#3c3c3c" stroke="#3c3c3c" stroke-width="0.18">20</text>
<line x1="151.50" y1="403.2" x2="151.50" y2="406.5" stroke="#333333" stroke-width="1"/>
<text x="151.50" y="414.30" font-size="6.2" text-anchor="middle" fill="#3c3c3c" stroke="#3c3c3c" stroke-width="0.18">30</text>
<line x1="183.50" y1="403.2" x2="183.50" y2="406.5" stroke="#333333" stroke-width="1"/>
<text x="183.50" y="414.30" font-size="6.2" text-anchor="middle" fill="#3c3c3c" stroke="#3c3c3c" stroke-width="0.18">40</text>
<line x1="215.50" y1="403.2" x2="215.50" y2="406.5" stroke="#333333" stroke-width="1"/>
<text x="215.50" y="414.30" font-size="6.2" text-anchor="middle" fill="#3c3c3c" stroke="#3c3c3c" stroke-width="0.18">50</text>
<line x1="247.50" y1="403.2" x2="247.50" y2="406.5" stroke="#333333" stroke-width="1"/>
<text x="247.50" y="414.30" font-size="6.2" text-anchor="middle" fill="#3c3c3c" stroke="#3c3c3c" stroke-width="0.18">60</text>
<path d="M304 253.5 V402.9 H513.6" fill="none" stroke="#333333" stroke-width="1.5" stroke-linejoin="miter"/>
<line x1="300.7" y1="396.30" x2="304" y2="396.30" stroke="#333333" stroke-width="1"/>
<text x="298.20" y="398.50" font-size="6.2" text-anchor="end" fill="#3c3c3c" stroke="#3c3c3c" stroke-width="0.18">0.0</text>
<line x1="300.7" y1="368.96" x2="304" y2="368.96" stroke="#333333" stroke-width="1"/>
<text x="298.20" y="371.16" font-size="6.2" text-anchor="end" fill="#3c3c3c" stroke="#3c3c3c" stroke-width="0.18">0.2</text>
<line x1="300.7" y1="341.62" x2="304" y2="341.62" stroke="#333333" stroke-width="1"/>
<text x="298.20" y="343.82" font-size="6.2" text-anchor="end" fill="#3c3c3c" stroke="#3c3c3c" stroke-width="0.18">0.4</text>
<line x1="300.7" y1="314.28" x2="304" y2="314.28" stroke="#333333" stroke-width="1"/>
<text x="298.20" y="316.48" font-size="6.2" text-anchor="end" fill="#3c3c3c" stroke="#3c3c3c" stroke-width="0.18">0.6</text>
<line x1="300.7" y1="286.94" x2="304" y2="286.94" stroke="#333333" stroke-width="1"/>
<text x="298.20" y="289.14" font-size="6.2" text-anchor="end" fill="#3c3c3c" stroke="#3c3c3c" stroke-width="0.18">0.8</text>
<line x1="300.7" y1="259.60" x2="304" y2="259.60" stroke="#333333" stroke-width="1"/>
<text x="298.20" y="261.80" font-size="6.2" text-anchor="end" fill="#3c3c3c" stroke="#3c3c3c" stroke-width="0.18">1.0</text>
<line x1="316.20" y1="402.9" x2="316.20" y2="406.2" stroke="#333333" stroke-width="1"/>
<text x="316.20" y="414.30" font-size="6.2" text-anchor="middle" fill="#3c3c3c" stroke="#3c3c3c" stroke-width="0.18">0</text>
<line x1="340.22" y1="402.9" x2="340.22" y2="406.2" stroke="#333333" stroke-width="1"/>
<text x="340.22" y="414.30" font-size="6.2" text-anchor="middle" fill="#3c3c3c" stroke="#3c3c3c" stroke-width="0.18">10</text>
<line x1="364.25" y1="402.9" x2="364.25" y2="406.2" stroke="#333333" stroke-width="1"/>
<text x="364.25" y="414.30" font-size="6.2" text-anchor="middle" fill="#3c3c3c" stroke="#3c3c3c" stroke-width="0.18">20</text>
<line x1="388.27" y1="402.9" x2="388.27" y2="406.2" stroke="#333333" stroke-width="1"/>
<text x="388.27" y="414.30" font-size="6.2" text-anchor="middle" fill="#3c3c3c" stroke="#3c3c3c" stroke-width="0.18">30</text>
<line x1="412.30" y1="402.9" x2="412.30" y2="406.2" stroke="#333333" stroke-width="1"/>
<text x="412.30" y="414.30" font-size="6.2" text-anchor="middle" fill="#3c3c3c" stroke="#3c3c3c" stroke-width="0.18">40</text>
<line x1="436.32" y1="402.9" x2="436.32" y2="406.2" stroke="#333333" stroke-width="1"/>
<text x="436.32" y="414.30" font-size="6.2" text-anchor="middle" fill="#3c3c3c" stroke="#3c3c3c" stroke-width="0.18">50</text>
<line x1="460.35" y1="402.9" x2="460.35" y2="406.2" stroke="#333333" stroke-width="1"/>
<text x="460.35" y="414.30" font-size="6.2" text-anchor="middle" fill="#3c3c3c" stroke="#3c3c3c" stroke-width="0.18">60</text>
<line x1="484.38" y1="402.9" x2="484.38" y2="406.2" stroke="#333333" stroke-width="1"/>
<text x="484.38" y="414.30" font-size="6.2" text-anchor="middle" fill="#3c3c3c" stroke="#3c3c3c" stroke-width="0.18">70</text>
<line x1="508.40" y1="402.9" x2="508.40" y2="406.2" stroke="#333333" stroke-width="1"/>
<text x="508.40" y="414.30" font-size="6.2" text-anchor="middle" fill="#3c3c3c" stroke="#3c3c3c" stroke-width="0.18">80</text>
<text x="26.40" y="95.40" font-size="7.9" text-anchor="middle" fill="#3c3c3c" stroke="#3c3c3c" stroke-width="0.26" textLength="64.60" lengthAdjust="spacingAndGlyphs" transform="rotate(-90 26.40 95.40)">Overall survival probability</text>
<text x="284.50" y="95.30" font-size="7.9" text-anchor="middle" fill="#3c3c3c" stroke="#3c3c3c" stroke-width="0.26" textLength="72.60" lengthAdjust="spacingAndGlyphs" transform="rotate(-90 284.50 95.30)">Event free survival probability</text>
<text x="26.40" y="328.00" font-size="7.9" text-anchor="middle" fill="#3c3c3c" stroke="#3c3c3c" stroke-width="0.26" textLength="64.60" lengthAdjust="spacingAndGlyphs" transform="rotate(-90 26.40 328.00)">Overall survival probability</text>
<text x="284.50" y="328.00" font-size="7.9" text-anchor="middle" fill="#3c3c3c" stroke="#3c3c3c" stroke-width="0.26" textLength="64.60" lengthAdjust="spacingAndGlyphs" transform="rotate(-90 284.50 328.00)">Overall survival probability</text>
<text x="150.80" y="191.30" font-size="7.9" text-anchor="middle" fill="#3c3c3c" stroke="#3c3c3c" stroke-width="0.26" textLength="36.80" lengthAdjust="spacingAndGlyphs">Time (months)</text>
<text x="408.60" y="191.30" font-size="7.9" text-anchor="middle" fill="#3c3c3c" stroke="#3c3c3c" stroke-width="0.26" textLength="36.80" lengthAdjust="spacingAndGlyphs">Time (months)</text>
<text x="150.70" y="425.40" font-size="7.9" text-anchor="middle" fill="#3c3c3c" stroke="#3c3c3c" stroke-width="0.26" textLength="21.00" lengthAdjust="spacingAndGlyphs">Timeline</text>
<text x="408.80" y="425.40" font-size="7.9" text-anchor="middle" fill="#3c3c3c" stroke="#3c3c3c" stroke-width="0.26" textLength="36.00" lengthAdjust="spacingAndGlyphs">Time (months)</text>
<line x1="221.9" y1="26.5" x2="231.4" y2="26.5" stroke="#46638e" stroke-width="1.0"/>
<text x="234.00" y="28.50" font-size="6.2" text-anchor="start" fill="#3c3c3c" stroke="#3c3c3c" stroke-width="0.18" textLength="18.50" lengthAdjust="spacingAndGlyphs">CMML</text>
<line x1="221.9" y1="36.5" x2="231.4" y2="36.5" stroke="#c68645" stroke-width="1.0"/>
<text x="234.00" y="38.50" font-size="6.2" text-anchor="start" fill="#3c3c3c" stroke="#3c3c3c" stroke-width="0.18" textLength="13.90" lengthAdjust="spacingAndGlyphs">MDS</text>
<line x1="480" y1="26.5" x2="489" y2="26.5" stroke="#46638e" stroke-width="1.0"/>
<text x="492.30" y="28.50" font-size="6.2" text-anchor="start" fill="#3c3c3c" stroke="#3c3c3c" stroke-width="0.18" textLength="18.50" lengthAdjust="spacingAndGlyphs">CMML</text>
<line x1="480" y1="36.5" x2="489" y2="36.5" stroke="#c68645" stroke-width="1.0"/>
<text x="492.30" y="38.50" font-size="6.2" text-anchor="start" fill="#3c3c3c" stroke="#3c3c3c" stroke-width="0.18" textLength="13.90" lengthAdjust="spacingAndGlyphs">MDS</text>
<line x1="201.2" y1="263.5" x2="209.5" y2="263.5" stroke="#524878" stroke-width="1.0"/>
<text x="213.30" y="265.50" font-size="6.2" text-anchor="start" fill="#3c3c3c" stroke="#3c3c3c" stroke-width="0.18" textLength="21.90" lengthAdjust="spacingAndGlyphs">TP53-wt</text>
<line x1="201.2" y1="273.5" x2="209.5" y2="273.5" stroke="#c08448" stroke-width="1.0"/>
<text x="213.30" y="275.50" font-size="6.2" text-anchor="start" fill="#3c3c3c" stroke="#3c3c3c" stroke-width="0.18" textLength="39.00" lengthAdjust="spacingAndGlyphs">TP53-single-hit</text>
<line x1="201.2" y1="282.5" x2="209.5" y2="282.5" stroke="#5daa5a" stroke-width="1.0"/>
<text x="213.30" y="284.50" font-size="6.2" text-anchor="start" fill="#3c3c3c" stroke="#3c3c3c" stroke-width="0.18" textLength="36.00" lengthAdjust="spacingAndGlyphs">TP53-multi-hit</text>
<line x1="462.3" y1="263.5" x2="470.8" y2="263.5" stroke="#50a0c8" stroke-width="1.0"/>
<text x="473.90" y="265.50" font-size="6.2" text-anchor="start" fill="#3c3c3c" stroke="#3c3c3c" stroke-width="0.18" textLength="27.70" lengthAdjust="spacingAndGlyphs">Allo-HSCT</text>
<line x1="462.3" y1="272.5" x2="470.8" y2="272.5" stroke="#e8c030" stroke-width="1.0"/>
<text x="473.90" y="274.50" font-size="6.2" text-anchor="start" fill="#3c3c3c" stroke="#3c3c3c" stroke-width="0.18" textLength="36.30" lengthAdjust="spacingAndGlyphs">No allo-HSCT</text>
<text x="46.30" y="202.40" font-size="6.2" text-anchor="end" fill="#3c3c3c" stroke="#3c3c3c" stroke-width="0.18" textLength="16.30" lengthAdjust="spacingAndGlyphs">At risk</text>
<text x="46.30" y="212.30" font-size="6.2" text-anchor="end" fill="#3c3c3c" stroke="#3c3c3c" stroke-width="0.18" textLength="18.40" lengthAdjust="spacingAndGlyphs">CMML</text>
<text x="55.50" y="212.30" font-size="6.2" text-anchor="middle" fill="#3c3c3c" stroke="#3c3c3c" stroke-width="0.18">18</text>
<text x="87.50" y="212.30" font-size="6.2" text-anchor="middle" fill="#3c3c3c" stroke="#3c3c3c" stroke-width="0.18">15</text>
<text x="119.50" y="212.30" font-size="6.2" text-anchor="middle" fill="#3c3c3c" stroke="#3c3c3c" stroke-width="0.18">9</text>
<text x="151.50" y="212.30" font-size="6.2" text-anchor="middle" fill="#3c3c3c" stroke="#3c3c3c" stroke-width="0.18">4</text>
<text x="183.50" y="212.30" font-size="6.2" text-anchor="middle" fill="#3c3c3c" stroke="#3c3c3c" stroke-width="0.18">1</text>
<text x="215.50" y="212.30" font-size="6.2" text-anchor="middle" fill="#3c3c3c" stroke="#3c3c3c" stroke-width="0.18">0</text>
<text x="247.50" y="212.30" font-size="6.2" text-anchor="middle" fill="#3c3c3c" stroke="#3c3c3c" stroke-width="0.18">0</text>
<text x="46.30" y="221.30" font-size="6.2" text-anchor="end" fill="#3c3c3c" stroke="#3c3c3c" stroke-width="0.18" textLength="14.00" lengthAdjust="spacingAndGlyphs">MDS</text>
<text x="55.50" y="221.30" font-size="6.2" text-anchor="middle" fill="#3c3c3c" stroke="#3c3c3c" stroke-width="0.18">82</text>
<text x="87.50" y="221.30" font-size="6.2" text-anchor="middle" fill="#3c3c3c" stroke="#3c3c3c" stroke-width="0.18">52</text>
<text x="119.50" y="221.30" font-size="6.2" text-anchor="middle" fill="#3c3c3c" stroke="#3c3c3c" stroke-width="0.18">29</text>
<text x="151.50" y="221.30" font-size="6.2" text-anchor="middle" fill="#3c3c3c" stroke="#3c3c3c" stroke-width="0.18">18</text>
<text x="183.50" y="221.30" font-size="6.2" text-anchor="middle" fill="#3c3c3c" stroke="#3c3c3c" stroke-width="0.18">7</text>
<text x="215.50" y="221.30" font-size="6.2" text-anchor="middle" fill="#3c3c3c" stroke="#3c3c3c" stroke-width="0.18">4</text>
<text x="247.50" y="221.30" font-size="6.2" text-anchor="middle" fill="#3c3c3c" stroke="#3c3c3c" stroke-width="0.18">0</text>
<text x="304.20" y="202.40" font-size="6.2" text-anchor="end" fill="#3c3c3c" stroke="#3c3c3c" stroke-width="0.18" textLength="16.30" lengthAdjust="spacingAndGlyphs">At risk</text>
<text x="304.20" y="212.30" font-size="6.2" text-anchor="end" fill="#3c3c3c" stroke="#3c3c3c" stroke-width="0.18" textLength="18.40" lengthAdjust="spacingAndGlyphs">CMML</text>
<text x="313.40" y="212.30" font-size="6.2" text-anchor="middle" fill="#3c3c3c" stroke="#3c3c3c" stroke-width="0.18">18</text>
<text x="340.20" y="212.30" font-size="6.2" text-anchor="middle" fill="#3c3c3c" stroke="#3c3c3c" stroke-width="0.18">12</text>
<text x="367.00" y="212.30" font-size="6.2" text-anchor="middle" fill="#3c3c3c" stroke="#3c3c3c" stroke-width="0.18">4</text>
<text x="393.80" y="212.30" font-size="6.2" text-anchor="middle" fill="#3c3c3c" stroke="#3c3c3c" stroke-width="0.18">2</text>
<text x="420.60" y="212.30" font-size="6.2" text-anchor="middle" fill="#3c3c3c" stroke="#3c3c3c" stroke-width="0.18">2</text>
<text x="447.40" y="212.30" font-size="6.2" text-anchor="middle" fill="#3c3c3c" stroke="#3c3c3c" stroke-width="0.18">1</text>
<text x="474.20" y="212.30" font-size="6.2" text-anchor="middle" fill="#3c3c3c" stroke="#3c3c3c" stroke-width="0.18">1</text>
<text x="501.00" y="212.30" font-size="6.2" text-anchor="middle" fill="#3c3c3c" stroke="#3c3c3c" stroke-width="0.18">0</text>
<text x="304.20" y="221.30" font-size="6.2" text-anchor="end" fill="#3c3c3c" stroke="#3c3c3c" stroke-width="0.18" textLength="14.00" lengthAdjust="spacingAndGlyphs">MDS</text>
<text x="313.40" y="221.30" font-size="6.2" text-anchor="middle" fill="#3c3c3c" stroke="#3c3c3c" stroke-width="0.18">82</text>
<text x="340.20" y="221.30" font-size="6.2" text-anchor="middle" fill="#3c3c3c" stroke="#3c3c3c" stroke-width="0.18">43</text>
<text x="367.00" y="221.30" font-size="6.2" text-anchor="middle" fill="#3c3c3c" stroke="#3c3c3c" stroke-width="0.18">19</text>
<text x="393.80" y="221.30" font-size="6.2" text-anchor="middle" fill="#3c3c3c" stroke="#3c3c3c" stroke-width="0.18">8</text>
<text x="420.60" y="221.30" font-size="6.2" text-anchor="middle" fill="#3c3c3c" stroke="#3c3c3c" stroke-width="0.18">4</text>
<text x="447.40" y="221.30" font-size="6.2" text-anchor="middle" fill="#3c3c3c" stroke="#3c3c3c" stroke-width="0.18">1</text>
<text x="474.20" y="221.30" font-size="6.2" text-anchor="middle" fill="#3c3c3c" stroke="#3c3c3c" stroke-width="0.18">1</text>
<text x="501.00" y="221.30" font-size="6.2" text-anchor="middle" fill="#3c3c3c" stroke="#3c3c3c" stroke-width="0.18">1</text>
<text x="46.30" y="436.40" font-size="6.2" text-anchor="end" fill="#3c3c3c" stroke="#3c3c3c" stroke-width="0.18" textLength="16.30" lengthAdjust="spacingAndGlyphs">At risk</text>
<text x="46.30" y="445.40" font-size="6.2" text-anchor="end" fill="#3c3c3c" stroke="#3c3c3c" stroke-width="0.18" textLength="21.80" lengthAdjust="spacingAndGlyphs">TP53-wt</text>
<text x="55.50" y="445.40" font-size="6.2" text-anchor="middle" fill="#3c3c3c" stroke="#3c3c3c" stroke-width="0.18">65</text>
<text x="87.50" y="445.40" font-size="6.2" text-anchor="middle" fill="#3c3c3c" stroke="#3c3c3c" stroke-width="0.18">49</text>
<text x="119.50" y="445.40" font-size="6.2" text-anchor="middle" fill="#3c3c3c" stroke="#3c3c3c" stroke-width="0.18">33</text>
<text x="151.50" y="445.40" font-size="6.2" text-anchor="middle" fill="#3c3c3c" stroke="#3c3c3c" stroke-width="0.18">18</text>
<text x="183.50" y="445.40" font-size="6.2" text-anchor="middle" fill="#3c3c3c" stroke="#3c3c3c" stroke-width="0.18">6</text>
<text x="215.50" y="445.40" font-size="6.2" text-anchor="middle" fill="#3c3c3c" stroke="#3c3c3c" stroke-width="0.18">3</text>
<text x="247.50" y="445.40" font-size="6.2" text-anchor="middle" fill="#3c3c3c" stroke="#3c3c3c" stroke-width="0.18">0</text>
<text x="46.30" y="455.40" font-size="6.2" text-anchor="end" fill="#3c3c3c" stroke="#3c3c3c" stroke-width="0.18" textLength="39.10" lengthAdjust="spacingAndGlyphs">TP53-single-hit</text>
<text x="55.50" y="455.40" font-size="6.2" text-anchor="middle" fill="#3c3c3c" stroke="#3c3c3c" stroke-width="0.18">12</text>
<text x="87.50" y="455.40" font-size="6.2" text-anchor="middle" fill="#3c3c3c" stroke="#3c3c3c" stroke-width="0.18">10</text>
<text x="119.50" y="455.40" font-size="6.2" text-anchor="middle" fill="#3c3c3c" stroke="#3c3c3c" stroke-width="0.18">3</text>
<text x="151.50" y="455.40" font-size="6.2" text-anchor="middle" fill="#3c3c3c" stroke="#3c3c3c" stroke-width="0.18">2</text>
<text x="183.50" y="455.40" font-size="6.2" text-anchor="middle" fill="#3c3c3c" stroke="#3c3c3c" stroke-width="0.18">1</text>
<text x="215.50" y="455.40" font-size="6.2" text-anchor="middle" fill="#3c3c3c" stroke="#3c3c3c" stroke-width="0.18">1</text>
<text x="247.50" y="455.40" font-size="6.2" text-anchor="middle" fill="#3c3c3c" stroke="#3c3c3c" stroke-width="0.18">0</text>
<text x="46.30" y="465.10" font-size="6.2" text-anchor="end" fill="#3c3c3c" stroke="#3c3c3c" stroke-width="0.18" textLength="36.10" lengthAdjust="spacingAndGlyphs">TP53-multi-hit</text>
<text x="55.50" y="465.10" font-size="6.2" text-anchor="middle" fill="#3c3c3c" stroke="#3c3c3c" stroke-width="0.18">21</text>
<text x="87.50" y="465.10" font-size="6.2" text-anchor="middle" fill="#3c3c3c" stroke="#3c3c3c" stroke-width="0.18">7</text>
<text x="119.50" y="465.10" font-size="6.2" text-anchor="middle" fill="#3c3c3c" stroke="#3c3c3c" stroke-width="0.18">2</text>
<text x="151.50" y="465.10" font-size="6.2" text-anchor="middle" fill="#3c3c3c" stroke="#3c3c3c" stroke-width="0.18">2</text>
<text x="183.50" y="465.10" font-size="6.2" text-anchor="middle" fill="#3c3c3c" stroke="#3c3c3c" stroke-width="0.18">1</text>
<text x="215.50" y="465.10" font-size="6.2" text-anchor="middle" fill="#3c3c3c" stroke="#3c3c3c" stroke-width="0.18">0</text>
<text x="247.50" y="465.10" font-size="6.2" text-anchor="middle" fill="#3c3c3c" stroke="#3c3c3c" stroke-width="0.18">0</text>
<text x="306.90" y="436.40" font-size="6.2" text-anchor="end" fill="#3c3c3c" stroke="#3c3c3c" stroke-width="0.18" textLength="16.30" lengthAdjust="spacingAndGlyphs">At risk</text>
<text x="306.90" y="445.40" font-size="6.2" text-anchor="end" fill="#3c3c3c" stroke="#3c3c3c" stroke-width="0.18" textLength="28.50" lengthAdjust="spacingAndGlyphs">Allo-HSCT</text>
<text x="316.20" y="445.40" font-size="6.2" text-anchor="middle" fill="#3c3c3c" stroke="#3c3c3c" stroke-width="0.18">20</text>
<text x="340.22" y="445.40" font-size="6.2" text-anchor="middle" fill="#3c3c3c" stroke="#3c3c3c" stroke-width="0.18">17</text>
<text x="364.25" y="445.40" font-size="6.2" text-anchor="middle" fill="#3c3c3c" stroke="#3c3c3c" stroke-width="0.18">16</text>
<text x="388.27" y="445.40" font-size="6.2" text-anchor="middle" fill="#3c3c3c" stroke="#3c3c3c" stroke-width="0.18">13</text>
<text x="412.30" y="445.40" font-size="6.2" text-anchor="middle" fill="#3c3c3c" stroke="#3c3c3c" stroke-width="0.18">12</text>
<text x="436.32" y="445.40" font-size="6.2" text-anchor="middle" fill="#3c3c3c" stroke="#3c3c3c" stroke-width="0.18">9</text>
<text x="460.35" y="445.40" font-size="6.2" text-anchor="middle" fill="#3c3c3c" stroke="#3c3c3c" stroke-width="0.18">6</text>
<text x="484.38" y="445.40" font-size="6.2" text-anchor="middle" fill="#3c3c3c" stroke="#3c3c3c" stroke-width="0.18">2</text>
<text x="508.40" y="445.40" font-size="6.2" text-anchor="middle" fill="#3c3c3c" stroke="#3c3c3c" stroke-width="0.18">0</text>
<text x="306.90" y="455.40" font-size="6.2" text-anchor="end" fill="#3c3c3c" stroke="#3c3c3c" stroke-width="0.18" textLength="36.90" lengthAdjust="spacingAndGlyphs">No allo-HSCT</text>
<text x="316.20" y="455.40" font-size="6.2" text-anchor="middle" fill="#3c3c3c" stroke="#3c3c3c" stroke-width="0.18">79</text>
<text x="340.22" y="455.40" font-size="6.2" text-anchor="middle" fill="#3c3c3c" stroke="#3c3c3c" stroke-width="0.18">47</text>
<text x="364.25" y="455.40" font-size="6.2" text-anchor="middle" fill="#3c3c3c" stroke="#3c3c3c" stroke-width="0.18">23</text>
<text x="388.27" y="455.40" font-size="6.2" text-anchor="middle" fill="#3c3c3c" stroke="#3c3c3c" stroke-width="0.18">11</text>
<text x="412.30" y="455.40" font-size="6.2" text-anchor="middle" fill="#3c3c3c" stroke="#3c3c3c" stroke-width="0.18">3</text>
<text x="436.32" y="455.40" font-size="6.2" text-anchor="middle" fill="#3c3c3c" stroke="#3c3c3c" stroke-width="0.18">2</text>
<text x="460.35" y="455.40" font-size="6.2" text-anchor="middle" fill="#3c3c3c" stroke="#3c3c3c" stroke-width="0.18">0</text>
<text x="484.38" y="455.40" font-size="6.2" text-anchor="middle" fill="#3c3c3c" stroke="#3c3c3c" stroke-width="0.18">0</text>
<text x="508.40" y="455.40" font-size="6.2" text-anchor="middle" fill="#3c3c3c" stroke="#3c3c3c" stroke-width="0.18">0</text>
<rect x="0.5" y="0.5" width="519" height="472" fill="none" stroke="#5a5a5a" stroke-width="1"/>
</svg></body></html>
